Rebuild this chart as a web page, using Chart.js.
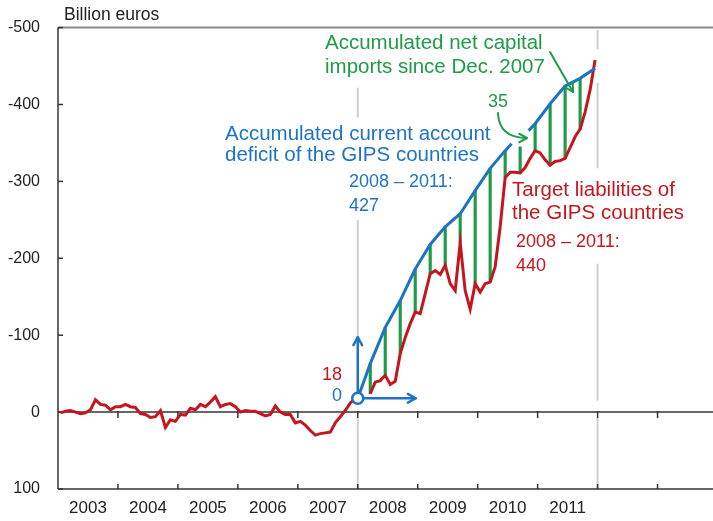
<!DOCTYPE html>
<html>
<head>
<meta charset="utf-8">
<script src="https://cdn.jsdelivr.net/npm/chart.js@4.4.1/dist/chart.umd.min.js"></script>
<style>
html, body { margin: 0; padding: 0; background: #fff; }
#wrap { width: 713px; height: 521px; }
</style>
</head>
<body>
<div id="wrap"><canvas id="chart" width="713" height="521"></canvas></div>
<script>
// x values are months since Jan 2003 (monthly points sit mid-month)
const years = ['2003', '2004', '2005', '2006', '2007', '2008', '2009', '2010', '2011'];
const yTicks = [-500, -400, -300, -200, -100, 0, 100];

// Target liabilities of the GIPS countries, Jan 2003 .. Dec 2011 (negative = liability)
const targetValues = [
    1, -1, -2, 0, 2, 1, -3, -16, -10, -9, -3, -7,
    -7, -10, -7, -6, 2, 3, 7, 6, -2, 20, 10, 12,
    3, 4, -5, -3, -10, -7, -13, -20, -7, -10, -11, -7,
    0, -2, -1, -1, 2, 5, 3, -8, 0, 3, 3, 14,
    12, 17, 24, 30, 28, 27, 26, 14, 6, -2, -12, -18,
    null, null, -24, -39, -41, -48, -36, -40, -76, -97, -115, -130,
    -128, -154, -180, -184, -179, -191, -167, -158, -220, -158, -134, -167,
    -156, -167, -169, -189, -241, -305, -312, -312, -311, -318, -330, -340,
    -337, -328, -321, -326, -327, -330, -344, -358, -368, -390, -419, -458
];

// accumulated current account deficit (from the Dec 2007 target level)
const deficitMonths = [60, 62.5, 65.5, 68.5, 71.5, 74.5, 77.5, 80.5, 83.5, 86.5, 89.5, 90.8, 92.5, 94.2, 95.5, 98.5, 101.5, 104.5, 107.5];
const deficitValues = [-18, -63, -110, -145, -186, -218, -241, -258, -288, -317, -340, -349, null, -366, -375, -401, -424, -434, -447];

// quarterly net capital import bars: month index and top end
const importMonths = [62, 65, 68, 71, 74, 77, 80, 83, 86, 89, 92, 95, 98, 101, 104];
const importTop = [-63, -110, -145, -186, -218, -241, -258, -288, -317, -340, -345, -375, -401, -424, -434];

const FONT = "'Liberation Sans', Arial, sans-serif";
const RED = '#c4161f';
const BLUE = '#1f73c4';
const GREEN = '#1e9b47';

function line(ctx, x1, y1, x2, y2) {
    ctx.beginPath();
    ctx.moveTo(x1, y1);
    ctx.lineTo(x2, y2);
    ctx.stroke();
}

function arrowHead(ctx, x, y, ang, size) {
    ctx.beginPath();
    ctx.moveTo(x - size * Math.cos(ang - 0.5), y - size * Math.sin(ang - 0.5));
    ctx.lineTo(x, y);
    ctx.lineTo(x - size * Math.cos(ang + 0.5), y - size * Math.sin(ang + 0.5));
    ctx.stroke();
}

function text(ctx, str, x, y, color, size, align) {
    ctx.fillStyle = color;
    ctx.font = size + 'px ' + FONT;
    ctx.textAlign = align || 'left';
    ctx.textBaseline = 'middle';
    ctx.fillText(str, x, y);
}

const frame = {
    id: 'frame',
    beforeDatasetsDraw(chart) {
        const { ctx, chartArea: a, scales: { x, y } } = chart;
        ctx.save();
        // light grey markers at Dec 2007 and Dec 2011
        ctx.strokeStyle = '#cfcfcf';
        ctx.lineWidth = 2;
        const v1 = x.getPixelForValue(60), v2 = x.getPixelForValue(108);
        [[-422, -383], [-250, -97], [8, 100]].forEach(s => line(ctx, v1, y.getPixelForValue(s[0]), v1, y.getPixelForValue(s[1])));
        [[-497, -472], [-428, -317], [-193, -15], [8, 100]].forEach(s => line(ctx, v2, y.getPixelForValue(s[0]), v2, y.getPixelForValue(s[1])));

        // axes
        const y0 = y.getPixelForValue(0);
        ctx.strokeStyle = '#888';
        ctx.lineWidth = 2;
        line(ctx, a.left, a.top, a.right, a.top);
        ctx.strokeStyle = '#333';
        ctx.lineWidth = 1.5;
        line(ctx, a.left, y0, a.right, y0);
        line(ctx, a.left, a.bottom, a.right, a.bottom);
        line(ctx, a.left, a.top, a.left, a.bottom);
        for (let m = 12; m <= 120; m += 12) {
            const px = x.getPixelForValue(m);
            line(ctx, px, y0 - 1, px, y0 + 6);
            line(ctx, px, a.bottom - 5, px, a.bottom);
        }
        yTicks.forEach(v => {
            const py = y.getPixelForValue(v);
            line(ctx, a.left, py, a.left + 5, py);
        });
        ctx.restore();
    },
    afterDatasetsDraw(chart) {
        const { ctx, scales: { x, y } } = chart;
        ctx.save();
        ctx.lineCap = 'round';
        ctx.lineJoin = 'round';

        // origin marker with axes arrows
        const ox = x.getPixelForValue(deficitMonths[0]), oy = y.getPixelForValue(deficitValues[0]);
        ctx.strokeStyle = '#fff';
        ctx.lineWidth = 6;
        line(ctx, ox, oy, ox + 58, oy);
        ctx.strokeStyle = BLUE;
        ctx.lineWidth = 2.5;
        line(ctx, ox, oy, ox, oy - 61);
        arrowHead(ctx, ox, oy - 61, -Math.PI / 2, 9);
        line(ctx, ox, oy, ox + 58, oy);
        arrowHead(ctx, ox + 58, oy, 0, 9);
        ctx.beginPath();
        ctx.arc(ox, oy, 5.5, 0, Math.PI * 2);
        ctx.fillStyle = '#fff';
        ctx.fill();
        ctx.stroke();

        // green pointer arrows
        ctx.strokeStyle = GREEN;
        ctx.lineWidth = 2;
        line(ctx, 550, 52, 573, 92);
        arrowHead(ctx, 573, 92, Math.atan2(40, 23), 9);
        ctx.beginPath();
        ctx.moveTo(498, 113);
        ctx.quadraticCurveTo(499, 138, 527, 138);
        ctx.stroke();
        arrowHead(ctx, 527, 138, 0, 9);

        // labels
        text(ctx, 'Billion euros', 64, 15, '#222', 17.5);
        text(ctx, 'Accumulated net capital', 325, 43, GREEN, 20.5);
        text(ctx, 'imports since Dec. 2007', 325, 67, GREEN, 20.5);
        text(ctx, 'Accumulated current account', 225, 134, BLUE, 20.5);
        text(ctx, 'deficit of the GIPS countries', 225, 155, BLUE, 20.5);
        text(ctx, '2008 \u2013 2011:', 349, 182, BLUE, 18);
        text(ctx, '427', 349, 206, BLUE, 18);
        text(ctx, 'Target liabilities of', 512, 190, RED, 20.5);
        text(ctx, 'the GIPS countries', 512, 213, RED, 20.5);
        text(ctx, '2008 \u2013 2011:', 516, 242, RED, 18);
        text(ctx, '440', 516, 266, RED, 18);
        text(ctx, '35', 488, 102, GREEN, 18);
        text(ctx, '18', 342, 375, RED, 18, 'right');
        text(ctx, '0', 342, 396, BLUE, 18, 'right');
        ctx.restore();
    }
};

new Chart(document.getElementById('chart'), {
    type: 'line',
    data: {
        datasets: [
            {
                type: 'bar',
                data: importMonths.map((m, i) => ({ x: m + 0.5, y: [targetValues[m], importTop[i]] })),
                backgroundColor: GREEN,
                barThickness: 2.5,
                order: 3
            },
            {
                data: targetValues.map((v, i) => ({ x: i + 0.5, y: v })),
                borderColor: RED,
                borderWidth: 3,
                pointRadius: 0,
                spanGaps: false,
                order: 2
            },
            {
                data: deficitMonths.map((m, i) => ({ x: m, y: deficitValues[i] })),
                borderColor: BLUE,
                borderWidth: 3,
                pointRadius: 0,
                spanGaps: false,
                order: 1
            }
        ]
    },
    options: {
        responsive: false,
        devicePixelRatio: 1,
        animation: false,
        layout: { padding: { top: 27, right: 0, left: 0, bottom: 0 } },
        plugins: { legend: { display: false }, tooltip: { enabled: false } },
        scales: {
            x: {
                type: 'linear',
                min: 0,
                max: 131.1,
                offset: false,
                grid: { display: false, drawTicks: false },
                border: { display: false },
                afterBuildTicks: s => { s.ticks = years.map((_, i) => ({ value: 12 * i + 6 })); },
                afterFit: s => { s.height = 32; },
                ticks: {
                    autoSkip: false,
                    maxRotation: 0,
                    padding: 9,
                    color: '#222',
                    font: { family: FONT, size: 17 },
                    callback: v => years[Math.round((v - 6) / 12)]
                }
            },
            y: {
                reverse: true,
                min: -500,
                max: 100,
                grid: { display: false, drawTicks: false },
                border: { display: false },
                afterBuildTicks: s => { s.ticks = yTicks.map(v => ({ value: v })); },
                afterFit: s => { s.width = 58; },
                ticks: {
                    padding: 18,
                    color: '#222',
                    font: { family: FONT, size: 16 },
                    callback: v => String(v)
                }
            }
        }
    },
    plugins: [frame]
});
</script>
</body>
</html>
